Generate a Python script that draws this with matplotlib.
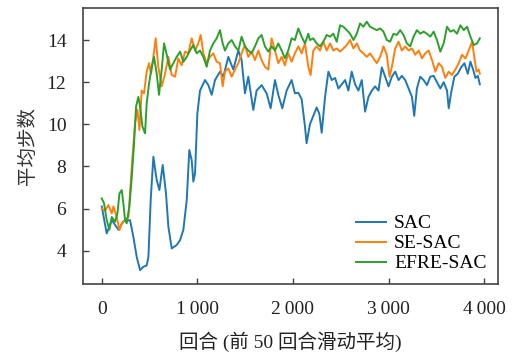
import matplotlib
matplotlib.use('Agg')
import matplotlib.pyplot as plt

# 数据
sac_x = [0, 52, 105, 174, 226, 296, 331, 366, 401, 436, 470, 488, 512, 540, 575, 603, 638, 672, 697, 732,
         784, 819, 854, 889, 916, 941, 958, 976, 1000, 1028, 1080, 1115, 1150, 1185, 1237, 1272, 1324, 1376, 1429, 1463,
         1498, 1533, 1585, 1620, 1672, 1725, 1767, 1812, 1847, 1889, 1934, 1986, 2021, 2056, 2091, 2126, 2143, 2178, 2213, 2248,
         2276, 2301, 2336, 2371, 2406, 2441, 2476, 2511, 2546, 2580, 2615, 2650, 2685, 2720, 2755, 2790, 2825, 2860, 2895, 2930,
         2965, 3000, 3035, 3070, 3105, 3140, 3175, 3210, 3245, 3269, 3297, 3332, 3367, 3402, 3437, 3472, 3507, 3542, 3577, 3612,
         3630, 3654, 3689, 3724, 3759, 3794, 3829, 3857, 3885, 3909, 3934, 3955]
sac_y = [6.1, 4.82, 5.45, 5.0, 5.4, 5.45, 4.66, 3.7, 3.08, 3.24, 3.3, 3.7, 6.4, 8.46, 7.35, 6.88, 8.07, 6.72, 5.14, 4.11,
         4.27, 4.5, 5.0, 6.4, 8.78, 8.3, 7.28, 7.67, 10.5, 11.6, 12.1, 11.86, 11.4, 12.1, 12.5, 12.26, 13.2, 12.6, 13.5, 13.05,
         11.47, 12.26, 10.68, 11.6, 11.86, 11.47, 10.76, 12.1, 11.4, 10.76, 11.6, 12.1, 11.47, 11.5, 11.2, 9.9, 9.1, 10.0, 10.4, 10.8,
         10.5, 9.6, 11.3, 12.5, 12.1, 12.2, 11.7, 11.9, 12.1, 11.6, 12.5, 11.9, 11.6, 12.1, 10.6, 11.3, 11.6, 11.8, 11.6, 12.7,
         12.26, 11.8, 12.26, 12.5, 12.1, 12.3, 12.1, 11.7, 11.3, 10.4, 11.7, 12.26, 12.1, 11.86, 12.26, 12.3, 12.0, 11.7, 12.0, 11.6,
         10.76, 11.47, 12.26, 12.4, 12.7, 12.9, 12.4, 12.97, 12.6, 12.2, 12.3, 11.9]

se_x = [0, 35, 70, 105, 122, 157, 185, 209, 244, 279, 314, 348, 373, 394, 418, 443, 470, 495, 516, 540,
        564, 592, 627, 662, 697, 732, 767, 801, 836, 871, 906, 941, 976, 1010, 1035, 1063, 1098, 1132, 1167, 1202,
        1237, 1265, 1289, 1324, 1359, 1394, 1429, 1463, 1498, 1533, 1568, 1603, 1638, 1672, 1707, 1742, 1777, 1812, 1847, 1882,
        1916, 1951, 1986, 2021, 2056, 2091, 2126, 2161, 2185, 2213, 2248, 2283, 2318, 2353, 2388, 2423, 2458, 2493, 2528, 2563,
        2598, 2633, 2668, 2702, 2737, 2772, 2807, 2842, 2877, 2912, 2947, 2982, 3010, 3035, 3070, 3105, 3140, 3175, 3210, 3245,
        3280, 3315, 3350, 3385, 3420, 3455, 3490, 3524, 3559, 3594, 3629, 3664, 3699, 3734, 3769, 3804, 3839, 3874, 3899, 3920,
        3944, 3955]
se_y = [6.0, 5.9, 6.17, 5.77, 6.1, 5.6, 4.98, 5.3, 5.45, 5.6, 7.97, 10.04, 10.7, 9.73, 11.6, 11.47, 12.5, 12.9, 12.4, 13.2,
        14.08, 12.73, 11.8, 12.4, 13.2, 12.34, 12.26, 13.13, 12.8, 13.45, 13.37, 14.08, 13.5, 13.84, 14.24, 13.37, 12.9, 13.2, 13.37, 12.97,
        12.9, 11.8, 12.5, 12.65, 12.26, 12.6, 12.9, 13.37, 13.76, 13.2, 13.45, 13.05, 13.5, 13.05, 12.73, 12.6, 14.08, 13.5, 12.9, 13.2,
        12.8, 13.37, 12.97, 13.37, 13.7, 13.37, 13.84, 12.73, 12.34, 13.5, 13.7, 13.5, 13.92, 13.5, 13.84, 13.5, 13.6, 13.45, 13.6, 13.76,
        14.0, 13.6, 13.84, 13.5, 13.37, 13.2, 13.37, 13.13, 12.9, 13.2, 13.7, 13.3, 12.26, 12.73, 13.6, 13.92, 13.5, 13.7, 13.5, 13.6,
        13.3, 13.5, 13.13, 13.37, 13.5, 13.05, 12.5, 12.9, 12.73, 12.2, 12.5, 12.34, 12.6, 12.9, 13.3, 13.13, 13.5, 13.92, 13.13, 12.5,
        12.6, 12.4]

efre_x = [0, 24, 52, 80, 105, 139, 164, 185, 209, 226, 244, 261, 289, 314, 338, 359, 383, 401, 425, 453,
          470, 495, 523, 547, 575, 599, 627, 652, 680, 714, 749, 784, 819, 854, 889, 923, 958, 993, 1028, 1063,
          1098, 1132, 1167, 1202, 1237, 1265, 1289, 1324, 1359, 1394, 1429, 1463, 1498, 1533, 1568, 1603, 1638, 1672, 1707, 1742,
          1777, 1812, 1847, 1882, 1916, 1951, 1986, 2021, 2056, 2091, 2126, 2161, 2178, 2213, 2248, 2283, 2318, 2353, 2388, 2423,
          2458, 2493, 2528, 2563, 2598, 2633, 2668, 2702, 2737, 2772, 2807, 2842, 2877, 2912, 2947, 2982, 3017, 3052, 3087, 3122,
          3157, 3192, 3227, 3262, 3297, 3332, 3367, 3402, 3437, 3472, 3507, 3542, 3577, 3612, 3647, 3682, 3717, 3752, 3787, 3822,
          3857, 3892, 3926, 3955]
efre_y = [6.48, 6.25, 5.45, 5.0, 5.6, 5.37, 5.77, 6.72, 6.88, 6.25, 5.45, 5.3, 6.1, 7.5, 9.1, 10.84, 11.3, 10.84, 9.9, 9.57,
          11.0, 11.94, 12.73, 13.2, 12.4, 11.4, 12.6, 13.84, 13.3, 12.6, 12.9, 13.2, 13.45, 12.97, 13.2, 13.5, 13.76, 13.37, 13.5, 13.2,
          12.73, 13.5, 13.84, 14.08, 14.47, 13.84, 13.5, 13.84, 14.0, 13.7, 13.5, 14.16, 13.7, 13.5, 13.37, 13.7, 14.08, 14.24, 13.7, 13.45,
          13.7, 13.5, 13.84, 13.5, 13.13, 13.5, 14.08, 14.0, 14.55, 14.16, 13.84, 14.3, 14.0, 14.08, 13.84, 13.7, 13.92, 14.24, 14.16, 14.3,
          13.92, 14.7, 14.63, 14.47, 14.3, 14.0, 14.3, 14.79, 14.63, 14.87, 14.63, 14.55, 14.47, 14.55, 14.4, 14.0, 13.92, 14.3, 14.24, 14.47,
          14.24, 13.84, 13.7, 14.16, 14.47, 14.3, 14.4, 14.3, 14.16, 14.4, 14.0, 13.45, 13.84, 14.63, 14.4, 14.47, 14.3, 14.7, 14.47, 14.63,
          14.16, 13.76, 13.84, 14.08]

series_names = ['SAC', 'SE-SAC', 'EFRE-SAC']
xticks = [0, 1000, 2000, 3000, 4000]
xtick_labels = ['0', '1\u2009000', '2\u2009000', '3\u2009000', '4\u2009000']
yticks = [4, 6, 8, 10, 12, 14]

serif = ['Liberation Serif', 'Noto Sans CJK SC']
plt.rcParams['font.family'] = serif

fig = plt.figure(figsize=(5.14, 3.54), dpi=100)
ax = fig.add_axes([0.1615, 0.1977, 0.8075, 0.7797])

ax.plot(sac_x, sac_y, color='#1f77b4', lw=1.4, label=series_names[0])
ax.plot(se_x, se_y, color='#ff7f0e', lw=1.4, label=series_names[1])
ax.plot(efre_x, efre_y, color='#2ca02c', lw=1.4, label=series_names[2])

ax.set_xlim(-196, 4146)
ax.set_ylim(2.42, 15.52)
ax.set_xticks(xticks)
ax.set_xticklabels(xtick_labels)
ax.set_yticks(yticks)
ax.tick_params(direction='in', length=4.5, width=1.0, color='#444444',
               labelsize=14, labelcolor='#222222')
ax.tick_params(axis='x', pad=12)
ax.tick_params(axis='y', pad=12)

for s in ax.spines.values():
    s.set_color('#444444')
    s.set_linewidth(1.2)

ax.set_xlabel('回合 (前 50 回合滑动平均)', fontsize=14, color='#222222', labelpad=10)
ax.set_ylabel('平均步数', fontsize=14, color='#333333', labelpad=7)

ax.legend(loc='lower right', frameon=False, fontsize=14, handlelength=1.55,
          handletextpad=0.4, labelspacing=0.12, borderaxespad=0.2)

fig.savefig('out.png', dpi=100)
